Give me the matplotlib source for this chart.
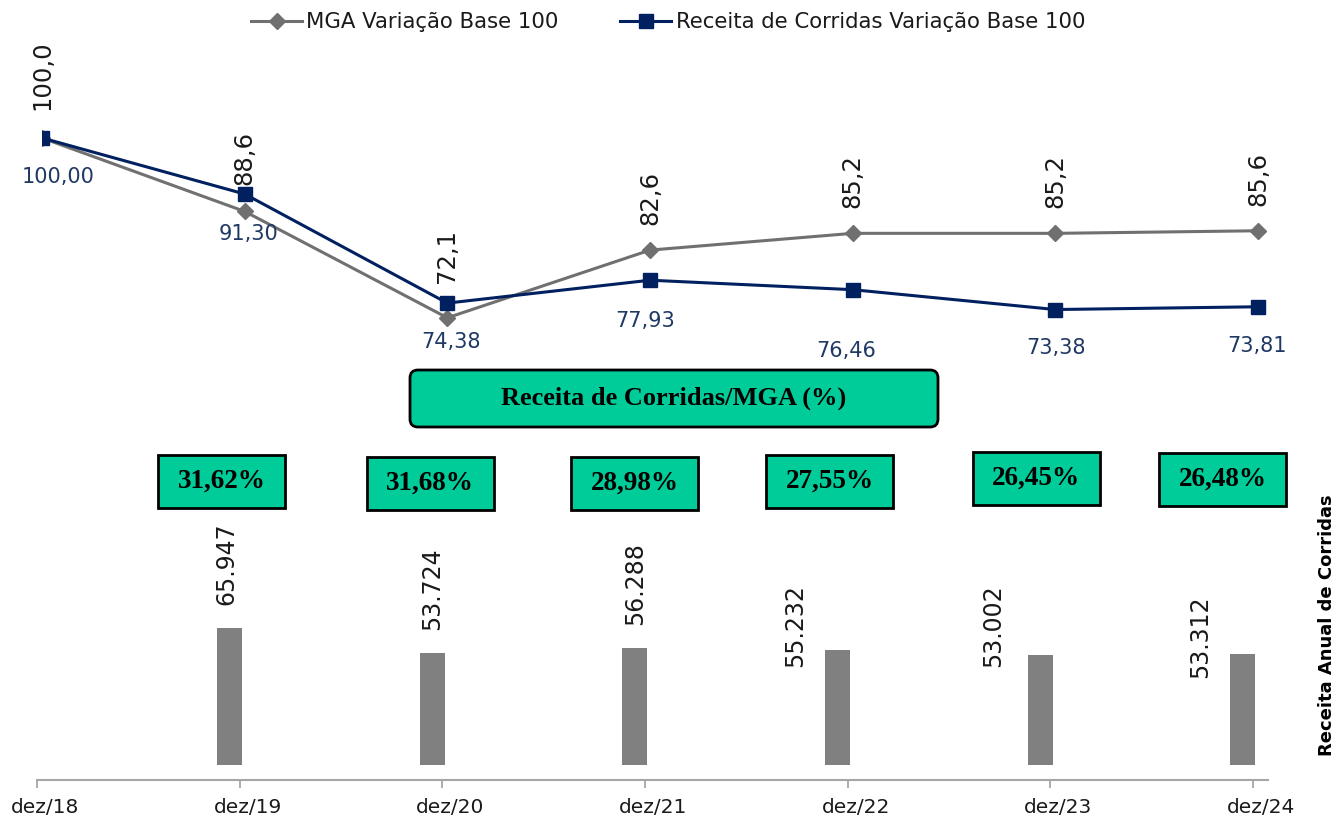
"""Receita de Corridas x MGA - base 100 lines, annual revenue bars and ratio boxes."""
import numpy as np
import matplotlib
matplotlib.use("Agg")
import matplotlib.pyplot as plt
import matplotlib.transforms as mtransforms
from matplotlib.lines import Line2D
from matplotlib.patches import FancyBboxPatch, Rectangle

W, H = 1339, 821

# ---- data ----
periodos = ["dez/18", "dez/19", "dez/20", "dez/21", "dez/22", "dez/23", "dez/24"]
mga_base100 = [100.0, 88.6, 72.1, 82.6, 85.2, 85.2, 85.6]
receita_base100 = [100.00, 91.30, 74.38, 77.93, 76.46, 73.38, 73.81]
receita_anual = [65947, 53724, 56288, 55232, 53002, 53312]      # dez/19 .. dez/24
receita_mga_pct = [31.62, 31.68, 28.98, 27.55, 26.45, 26.48]   # dez/19 .. dez/24

GRAY_LINE = "#707070"
NAVY = "#002060"
BAR_GRAY = "#808080"
GREEN = "#00CC99"
TXT = "#1a1a1a"
BLUE_TXT = "#1F3864"

plt.rcParams["font.family"] = ["DejaVu Sans"]
SERIF = ["Liberation Serif", "DejaVu Serif"]


def frac(x0, y0, x1, y1):
    # pixel box (top-left origin) -> figure fraction [l, b, w, h]
    return [x0 / W, 1 - y1 / H, (x1 - x0) / W, (y1 - y0) / H]


def br(v, nd):
    return f"{v:.{nd}f}".replace(".", ",")


fig = plt.figure(figsize=(W / 100, H / 100), dpi=100)
step = 202.67                       # px per period
xmax = (1268 - 37) / step
k = 2.08 / 1000                     # px per unit of revenue

# ---- bars (bottom) ----
ax_bar = fig.add_axes(frac(37, 440, 1268, 780))
xb = np.arange(1, len(periodos)) - 0.05
ax_bar.bar(xb, receita_anual, width=25 / step, color=BAR_GRAY, zorder=2)
ax_bar.set_xlim(0, xmax)
ax_bar.set_ylim(-15 / k, 325 / k)   # bars float a little above the axis line
ax_bar.set_xticks(range(len(periodos)))
ax_bar.set_xticklabels(periodos, fontsize=14.5, color=TXT)
ax_bar.tick_params(axis="x", direction="out", length=5.8, width=1.2, color="#A0A0A0", pad=7)
shift = mtransforms.ScaledTranslation(8 / 100, 0, fig.dpi_scale_trans)
for lbl in ax_bar.get_xticklabels():
    lbl.set_transform(lbl.get_transform() + shift)
ax_bar.set_yticks([])
for s in ["top", "right", "left"]:
    ax_bar.spines[s].set_visible(False)
ax_bar.spines["bottom"].set_color("#A6A6A6")
ax_bar.spines["bottom"].set_linewidth(1.5)
ax_bar.patch.set_alpha(0)

bar_lbl_dx = [-3, 0, 0, -42, -47, -43]      # px
bar_lbl_dy = [23, 23, 23, -17, -12, -24]    # px, text bottom vs bar top
for i, (x, v) in enumerate(zip(xb, receita_anual)):
    ax_bar.annotate(f"{v:,}".replace(",", "."), (x, v),
                    xytext=(bar_lbl_dx[i] * 0.72, bar_lbl_dy[i] * 0.72),
                    textcoords="offset points", rotation=90, ha="center", va="bottom",
                    fontsize=17, color=TXT, annotation_clip=False)

# ---- lines (top) ----
ax_line = fig.add_axes(frac(42, 0, 1273, 370))
ax_line.set_xlim(0, xmax)
ax_line.set_ylim(64, 121.4)
ax_line.axis("off")
xl = np.arange(len(periodos))
ax_line.plot(xl, mga_base100, color=GRAY_LINE, lw=2.2, marker="D", ms=8,
             mfc=GRAY_LINE, mec=GRAY_LINE, zorder=3)
ax_line.plot(xl, receita_base100, color=NAVY, lw=2.2, marker="s", ms=10,
             mfc=NAVY, mec=NAVY, zorder=4)

mga_dy = [28, 26, 35, 25, 25, 25, 25]
for i, v in enumerate(mga_base100):
    ax_line.annotate(br(v, 1), (xl[i], v), xytext=(0, mga_dy[i] * 0.72),
                     textcoords="offset points", rotation=90, ha="center", va="bottom",
                     fontsize=17.5, color=TXT, zorder=5)

rec_dx = [16, 4, 4, -5, -6, 1, -1]
rec_dy = [39, 40, 39, 41, 61, 38, 39]
for i, v in enumerate(receita_base100):
    ax_line.annotate(br(v, 2), (xl[i], v), xytext=(rec_dx[i] * 0.72, -rec_dy[i] * 0.72),
                     textcoords="offset points", ha="center", va="center",
                     fontsize=15, color=BLUE_TXT, zorder=5)

# ---- legend ----
handles = [Line2D([], [], color=GRAY_LINE, lw=2.2, marker="D", ms=8),
           Line2D([], [], color=NAVY, lw=2.2, marker="s", ms=10)]
fig.legend(handles, ["MGA Variação Base 100", "Receita de Corridas Variação Base 100"],
           loc="center", bbox_to_anchor=(668 / W, 1 - 22 / H), ncol=2, frameon=False,
           fontsize=15.3, handlelength=2.4, handletextpad=0.2, columnspacing=2.9,
           labelcolor=TXT)

# ---- ratio title box ----
inch = fig.dpi_scale_trans
fig.add_artist(FancyBboxPatch((410 / 100, (H - 427) / 100), 528 / 100, 57 / 100,
                              boxstyle="round,pad=0,rounding_size=0.08",
                              fc=GREEN, ec="black", lw=2, transform=inch))
fig.text(674 / W, 1 - 398 / H, "Receita de Corridas/MGA (%)", ha="center", va="center",
         fontsize=19, fontweight="bold", family=SERIF, color="black")

# ---- ratio boxes ----
box_dx = [-0.09, -0.06, -0.05, -0.09, -0.07, -0.15]
box_yc = [481, 483, 483, 481, 478, 479]
bw, bh = 127, 53
for i, p in enumerate(receita_mga_pct):
    xc = 37 + (i + 1 + box_dx[i]) * step
    fig.add_artist(Rectangle(((xc - bw / 2) / 100, (H - box_yc[i] - bh / 2) / 100),
                             bw / 100, bh / 100, fc=GREEN, ec="black", lw=2, transform=inch))
    fig.text(xc / W, 1 - box_yc[i] / H, br(p, 2) + "%", ha="center", va="center",
             fontsize=19.5, fontweight="bold", family=SERIF, color="black")

# ---- right axis title ----
fig.text(1327 / W, 1 - 625 / H, "Receita Anual de Corridas", rotation=90,
         ha="center", va="center", fontsize=13, fontweight="bold", color="black")

fig.savefig("out.png", dpi=100)
